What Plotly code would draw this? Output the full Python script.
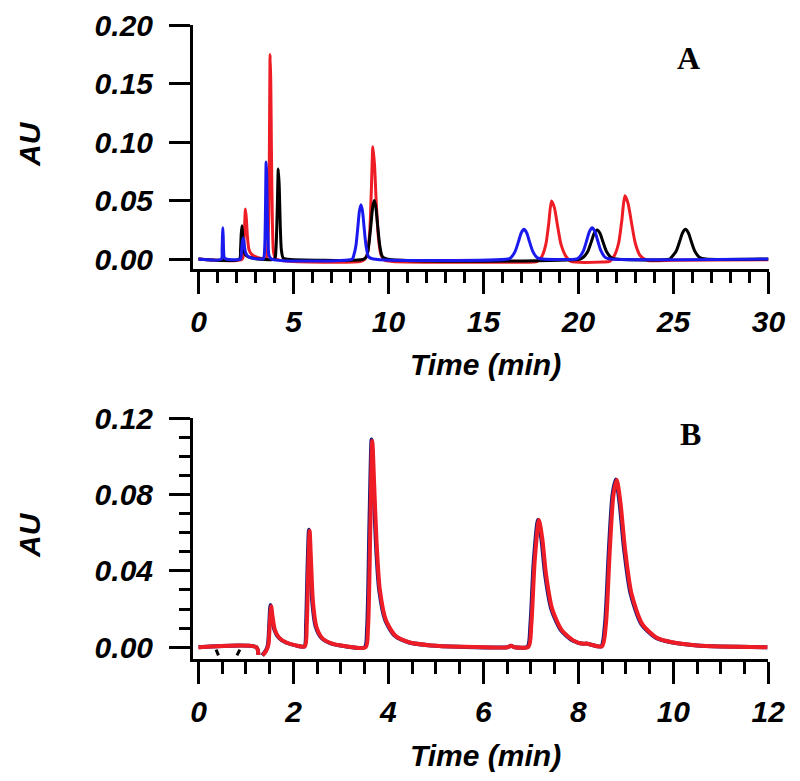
import plotly.graph_objects as go

# ---------------- Panel A data (time in min, absorbance in AU) ----------------
a_red_t = [0, 2.30, 2.37, 2.42, 2.47, 2.52, 2.57, 2.66, 2.80, 3.00, 3.30, 3.55, 3.62, 3.70, 3.735, 3.77, 3.805, 3.84, 3.89, 3.95, 4.05, 4.5,
           8.55, 8.76, 8.89, 9.01, 9.095, 9.18, 9.265, 9.35, 9.47, 9.60, 9.80, 10.2,
           17.6, 17.83, 18.08, 18.28, 18.43, 18.58, 18.73, 18.88, 19.08, 19.33, 19.6,
           21.3, 21.64, 21.89, 22.11, 22.28, 22.44, 22.60, 22.77, 22.99, 23.24, 23.6, 25.0, 30.0]
a_red_y = [0, 0, 0.0095, 0.026, 0.0427, 0.034, 0.020, 0.008, 0.004, 0.002, 0.0005, 0, 0.0055, 0.039, 0.106, 0.175, 0.150, 0.090, 0.030, 0.006, 0.0005, -0.0015,
           -0.002, 0.0, 0.0045, 0.0225, 0.058, 0.096, 0.080, 0.050, 0.018, 0.004, -0.001, -0.002,
           -0.0025, -0.002, 0.0025, 0.0125, 0.030, 0.0496, 0.044, 0.030, 0.0125, 0.0025, -0.002,
           -0.0025, -0.002, 0.003, 0.0135, 0.033, 0.054, 0.048, 0.033, 0.0135, 0.003, -0.001, -0.001, -0.0005]

a_black_t = [0, 2.15, 2.21, 2.25, 2.29, 2.33, 2.38, 2.46, 2.60, 2.80, 3.10, 4.00, 4.05, 4.10, 4.15, 4.20, 4.25, 4.30, 4.36, 4.45, 4.6,
             8.70, 8.85, 8.96, 9.08, 9.165, 9.25, 9.335, 9.42, 9.54, 9.67, 9.90,
             20.1, 20.23, 20.48, 20.68, 20.83, 20.98, 21.13, 21.28, 21.48, 21.73, 22.0,
             24.8, 24.88, 25.13, 25.33, 25.48, 25.63, 25.78, 25.93, 26.13, 26.38, 26.7, 30.0]
a_black_y = [0, 0, 0.008, 0.022, 0.0285, 0.018, 0.008, 0.004, 0.002, 0.001, 0, 0, 0.0025, 0.017, 0.047, 0.077, 0.062, 0.030, 0.008, 0.001, 0,
             0, 0.0023, 0.0117, 0.030, 0.044, 0.050, 0.044, 0.030, 0.0117, 0.0023, 0,
             0, 0.0012, 0.0062, 0.015, 0.022, 0.0248, 0.022, 0.015, 0.0062, 0.0012, 0,
             0, 0.0013, 0.0064, 0.0154, 0.0225, 0.0254, 0.0225, 0.0154, 0.0064, 0.0013, 0, 0]

a_blue_t = [0, 1.20, 1.24, 1.26, 1.28, 1.30, 1.32, 1.36, 1.45, 2.20, 2.26, 2.31, 2.36, 2.41, 2.47, 2.56, 2.70, 2.90, 3.35,
            3.41, 3.46, 3.50, 3.53, 3.56, 3.59, 3.62, 3.66, 3.71, 3.85,
            8.10, 8.15, 8.28, 8.39, 8.47, 8.55, 8.63, 8.71, 8.82, 8.95, 9.20,
            16.3, 16.43, 16.66, 16.85, 16.99, 17.13, 17.27, 17.41, 17.60, 17.83, 18.1,
            19.9, 20.02, 20.25, 20.44, 20.58, 20.72, 20.86, 21.00, 21.19, 21.42, 21.7, 30.0]
a_blue_y = [0, 0, 0.0077, 0.0194, 0.0267, 0.0194, 0.0077, 0.001, 0, 0, 0.006, 0.015, 0.018, 0.012, 0.006, 0.003, 0.0015, 0.0005, 0,
            0.0, 0.0032, 0.0177, 0.050, 0.083, 0.0725, 0.040, 0.0177, 0.003, 0,
            0, 0.002, 0.011, 0.028, 0.041, 0.0465, 0.041, 0.028, 0.011, 0.002, 0,
            0, 0.0011, 0.0064, 0.0154, 0.0225, 0.0254, 0.0225, 0.0154, 0.0064, 0.0011, 0,
            0, 0.0012, 0.0067, 0.0163, 0.0237, 0.0268, 0.0237, 0.0163, 0.0067, 0.0012, 0, 0]

# ---------------- Panel B data ----------------
b_red_t = [0, 1.22, 1.26, 1.30, 1.35, 1.42, 1.47, 1.50, 1.53, 1.56, 1.61, 1.70, 1.85, 2.05, 2.24,
           2.28, 2.31, 2.34, 2.37, 2.41, 2.48, 2.60, 2.80, 3.10, 3.52,
           3.57, 3.62, 3.66, 3.70, 3.75, 3.82, 3.95, 4.15, 4.45, 4.90, 5.5,
           6.50, 6.58, 6.66, 6.95, 7.01, 7.08, 7.17, 7.24, 7.32, 7.45, 7.65, 7.90, 8.10, 8.17, 8.25, 8.50,
           8.58, 8.66, 8.74, 8.81, 8.89, 8.98, 9.12, 9.35, 9.65, 10.0, 10.5, 11.98]
b_red_y = [0, 0, -0.004, None, -0.0042, -0.002, 0.001, 0.012, 0.0215, 0.016, 0.009, 0.005, 0.0025, 0.001, 0.0005,
           0.012, 0.040, 0.061, 0.045, 0.024, 0.011, 0.005, 0.002, 0.0005, 0,
           0.010, 0.065, 0.108, 0.085, 0.055, 0.030, 0.014, 0.006, 0.0025, 0.001, 0.0003,
           0, 0.0008, 0, 0.0003, 0.012, 0.045, 0.0666, 0.057, 0.038, 0.020, 0.009, 0.0035, 0.0018, 0.002, 0.0015, 0.0005,
           0.012, 0.050, 0.080, 0.0875, 0.075, 0.052, 0.028, 0.012, 0.005, 0.0025, 0.001, 0]

b_blue_t = [0, 1.22, 1.26, 1.30, 1.34, 1.41, 1.46, 1.49, 1.515, 1.545, 1.60, 1.69, 1.84, 2.04, 2.23,
            2.265, 2.295, 2.325, 2.355, 2.395, 2.465, 2.585, 2.785, 3.085, 3.50,
            3.55, 3.60, 3.645, 3.685, 3.735, 3.805, 3.935, 4.135, 4.435, 4.885, 5.5,
            6.50, 6.58, 6.66, 6.93, 6.99, 7.06, 7.15, 7.22, 7.30, 7.43, 7.63, 7.88, 8.10, 8.17, 8.25, 8.48,
            8.56, 8.64, 8.72, 8.79, 8.87, 8.96, 9.10, 9.33, 9.63, 9.98, 10.5, 11.98]
b_blue_y = [0, 0, -0.004, None, -0.0042, -0.002, 0.001, 0.012, 0.0222, 0.016, 0.009, 0.005, 0.0025, 0.001, 0.0005,
            0.012, 0.040, 0.0615, 0.045, 0.024, 0.011, 0.005, 0.002, 0.0005, 0,
            0.010, 0.065, 0.1088, 0.085, 0.055, 0.030, 0.014, 0.006, 0.0025, 0.001, 0.0003,
            0, 0.0008, 0, 0.0003, 0.012, 0.045, 0.0668, 0.057, 0.038, 0.020, 0.009, 0.0035, 0.0018, 0.002, 0.0015, 0.0005,
            0.012, 0.050, 0.080, 0.0878, 0.075, 0.052, 0.028, 0.012, 0.005, 0.0025, 0.001, 0]

b_black_t = [0.37, 0.42, None, 0.81, 0.87]
b_black_y = [-0.0012, -0.0042, None, -0.0042, -0.0012]

RED = "#ee1c24"
BLUE = "#1a1aee"
NAVY = "#1c1c7a"
BLACK = "#000000"

fig = go.Figure()
sm = 0.7
fig.add_trace(go.Scatter(x=a_red_t, y=a_red_y, mode="lines", line=dict(color=RED, width=3, shape="spline", smoothing=sm), xaxis="x", yaxis="y"))
fig.add_trace(go.Scatter(x=a_black_t, y=a_black_y, mode="lines", line=dict(color=BLACK, width=3, shape="spline", smoothing=sm), xaxis="x", yaxis="y"))
fig.add_trace(go.Scatter(x=a_blue_t, y=a_blue_y, mode="lines", line=dict(color=BLUE, width=3, shape="spline", smoothing=sm), xaxis="x", yaxis="y"))

fig.add_trace(go.Scatter(x=b_black_t, y=b_black_y, mode="lines", connectgaps=False, line=dict(color=BLACK, width=3), xaxis="x2", yaxis="y2"))
fig.add_trace(go.Scatter(x=b_blue_t, y=b_blue_y, mode="lines", connectgaps=False, line=dict(color=NAVY, width=4, shape="spline", smoothing=sm), xaxis="x2", yaxis="y2"))
fig.add_trace(go.Scatter(x=b_red_t, y=b_red_y, mode="lines", connectgaps=False, line=dict(color=RED, width=4, shape="spline", smoothing=sm), xaxis="x2", yaxis="y2"))

# The page body has an 8px default margin, so the figure is sized to fit inside it.
OFF = 8
W, H = 800 - OFF, 781 - OFF
tickfont = dict(family="Liberation Sans, Arial", size=30, weight="bold", style="italic", color="black")

def px_x(p):
    return (p - OFF) / W

def px_y(p):
    return 1 - (p - OFF) / H

common_axis = dict(showline=True, linewidth=3, linecolor="black", ticks="outside", tickwidth=3,
                   tickcolor="black", showgrid=False, zeroline=False, tickfont=tickfont, mirror=False,
                   automargin=False)

fig.update_layout(
    width=W, height=H, margin=dict(l=0, r=0, t=0, b=0, autoexpand=False),
    paper_bgcolor="white", plot_bgcolor="white", showlegend=False,
    xaxis=dict(domain=[px_x(193), px_x(768.5)], range=[-0.29, 30], anchor="y",
               tickvals=[0, 5, 10, 15, 20, 25, 30], ticklen=22,
               minor=dict(dtick=1, tick0=0, ticklen=11, tickwidth=3, tickcolor="black", ticks="outside"),
               ticklabelstandoff=2, **common_axis),
    yaxis=dict(domain=[px_y(269), px_y(25)], range=[-0.0085, 0.20], anchor="x",
               tickvals=[0, 0.05, 0.10, 0.15, 0.20], tickformat=".2f", ticklen=21,
               ticklabelstandoff=10, **common_axis),
    xaxis2=dict(domain=[px_x(193), px_x(768.3)], range=[-0.116, 12], anchor="y2",
                tickvals=[0, 2, 4, 6, 8, 10, 12], ticklen=22,
                minor=dict(dtick=0.5, tick0=0, ticklen=12, tickwidth=3, tickcolor="black", ticks="outside"),
                ticklabelstandoff=2, **common_axis),
    yaxis2=dict(domain=[px_y(658.5), px_y(418)], range=[-0.00586, 0.12], anchor="x2",
                tickvals=[0, 0.04, 0.08, 0.12], tickformat=".2f", ticklen=21,
                minor=dict(dtick=0.01, tick0=0, ticklen=11, tickwidth=3, tickcolor="black", ticks="outside"),
                ticklabelstandoff=10, **common_axis),
)

titlefont = dict(family="Liberation Sans, Arial", size=30, weight="bold", style="italic", color="black")
letterfont = dict(family="Liberation Serif, Times New Roman", size=32, weight="bold", color="black")
annos = [
    dict(text="Time (min)", x=px_x(485), y=px_y(365), font=titlefont),
    dict(text="Time (min)", x=px_x(485), y=px_y(755), font=titlefont),
    dict(text="AU", x=px_x(29), y=px_y(144), font=titlefont, textangle=-90),
    dict(text="AU", x=px_x(29), y=px_y(535), font=titlefont, textangle=-90),
    dict(text="A", x=px_x(688), y=px_y(58), font=letterfont),
    dict(text="B", x=px_x(690), y=px_y(434), font=letterfont),
]
for a in annos:
    fig.add_annotation(xref="paper", yref="paper", xanchor="center", yanchor="middle", showarrow=False, **a)

fig.write_html("out.html")
